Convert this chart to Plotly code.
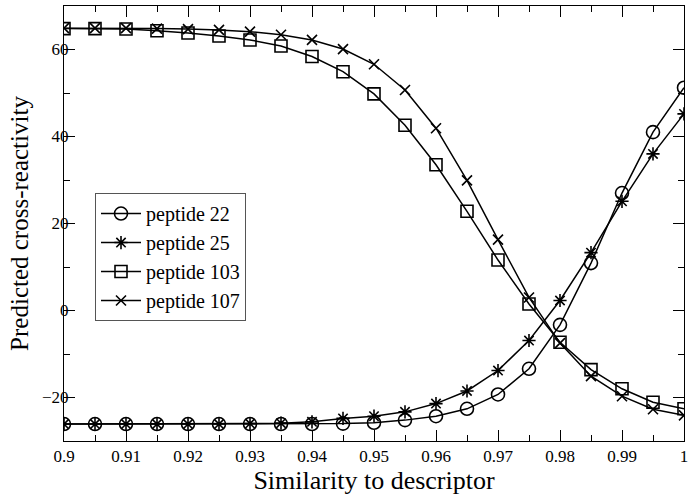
import plotly.graph_objects as go

x_vals = [0.9, 0.905, 0.91, 0.915, 0.92, 0.925, 0.93, 0.935, 0.94, 0.945, 0.95,
          0.955, 0.96, 0.965, 0.97, 0.975, 0.98, 0.985, 0.99, 0.995, 1.0]

pep22 = [-26.1, -26.1, -26.1, -26.1, -26.1, -26.1, -26.1, -26.1, -26.1, -26.0, -25.8,
         -25.2, -24.3, -22.6, -19.3, -13.4, -3.3, 10.9, 27.0, 41.0, 51.2]
pep25 = [-26.1, -26.1, -26.1, -26.1, -26.1, -26.1, -26.0, -25.9, -25.6, -24.8, -24.3,
         -23.3, -21.4, -18.5, -13.8, -6.9, 2.3, 13.3, 25.1, 36.0, 45.2]
pep103 = [64.8, 64.8, 64.7, 64.3, 63.8, 63.1, 62.2, 60.8, 58.4, 54.9, 49.8,
          42.6, 33.5, 22.8, 11.6, 1.5, -7.3, -13.6, -18.0, -21.1, -22.6]
pep107 = [64.9, 64.9, 64.9, 64.8, 64.7, 64.5, 64.1, 63.4, 62.2, 60.1, 56.6,
          50.7, 41.9, 29.9, 16.3, 3.0, -7.5, -15.1, -19.7, -22.7, -24.1]

series = [
    ("peptide 22", pep22, "circle-open", 13),
    ("peptide 25", pep25, "asterisk-open", 11),
    ("peptide 103", pep103, "square-open", 12),
    ("peptide 107", pep107, "x-thin-open", 10),
]

font_family = "Liberation Serif"

fig = go.Figure()
for name, vals, sym, size in series:
    fig.add_trace(go.Scatter(
        x=x_vals, y=vals, name=name, mode="lines+markers",
        line=dict(color="black", width=1.5),
        marker=dict(symbol=sym, size=size, color="black",
                    line=dict(color="black", width=1.6)),
    ))

axis_common = dict(
    showgrid=False, zeroline=False, showline=True, linecolor="black", linewidth=1,
    mirror="ticks", ticks="inside", ticklen=11, tickcolor="black", tickwidth=1,
    tickfont=dict(family=font_family, size=17, color="black"),
    automargin=False,
)

fig.update_layout(
    width=698, height=496,
    margin=dict(l=64, r=14, t=6, b=55),
    paper_bgcolor="white", plot_bgcolor="white",
    font=dict(family=font_family, color="black"),
    xaxis=dict(range=[0.9, 1.0], dtick=0.01, tick0=0.9,
               minor=dict(ticks="inside", ticklen=6, dtick=0.005, tickcolor="black"),
               title=dict(text="Similarity to descriptor", standoff=2,
                          font=dict(family=font_family, size=26, color="black")),
               **axis_common),
    yaxis=dict(range=[-30, 70], dtick=20, tick0=-20, ticklabelstandoff=-9,
               minor=dict(ticks="inside", ticklen=6, dtick=10, tickcolor="black"),
               title=dict(text="Predicted cross-reactivity", standoff=6,
                          font=dict(family=font_family, size=25, color="black")),
               **axis_common),
    legend=dict(x=0.05, y=0.57, xanchor="left", yanchor="top",
                bordercolor="#555", borderwidth=1, bgcolor="white",
                font=dict(family=font_family, size=20, color="black"),
                tracegroupgap=0, itemwidth=40),
    showlegend=True,
)

fig.write_html("out.html", config={"displayModeBar": False},
               post_script="document.body.style.margin='0';")
